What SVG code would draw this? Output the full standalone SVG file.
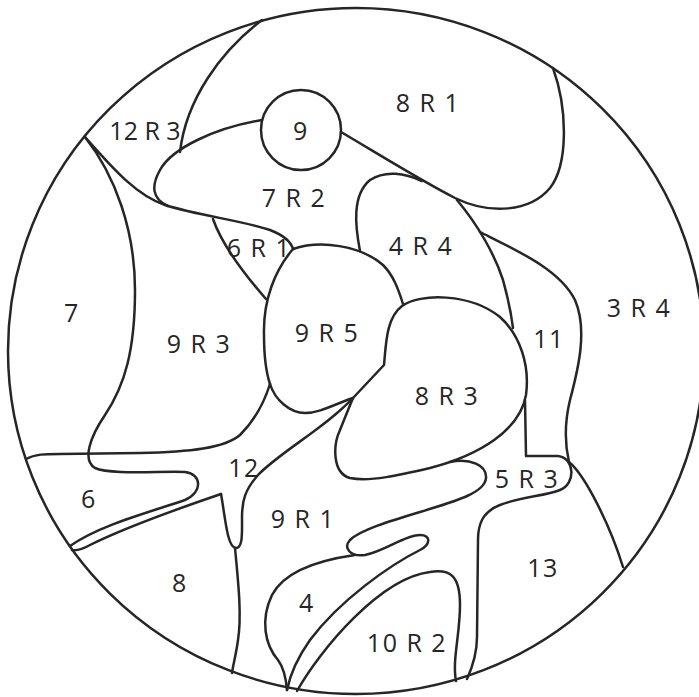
<svg xmlns="http://www.w3.org/2000/svg" width="699" height="697" viewBox="0 0 699 697">
<style>
.ln{fill:none;stroke:#262626;stroke-width:2.5;stroke-linecap:round;stroke-linejoin:round}
.lb{font-family:"Open Sans","Noto Sans","Liberation Sans",sans-serif;font-size:25px;fill:#262626;text-anchor:middle;letter-spacing:1.5px}
</style>
<rect width="699" height="697" fill="#ffffff"/>
<g id="outline">
<ellipse class="ln" cx="356" cy="351" rx="348" ry="343"/>
</g>
<g id="lines">
<path class="ln" d="M262,20 C220,52 186,100 180,152"/>
<path class="ln" d="M85,137 C110,165 135,195 165,205 C200,216 240,220 270,230 C283,235 291,242 293,249"/>
<path class="ln" d="M262,120 C215,128 172,148 160,170 C151,186 152,199 168,206"/>
<circle class="ln" cx="301" cy="130" r="40"/>
<path class="ln" d="M341,132 C380,155 420,180 455,198 C490,215 530,212 550,188 C568,165 568,110 553,68"/>
<path class="ln" d="M457,200 C478,225 495,255 503,280 C508,298 511,312 513,328"/>
<path class="ln" d="M353,398 L384,365 C386,345 386,318 402,306 C420,293 470,293 500,317 C520,335 530,365 526,395 C520,430 480,455 430,468 C400,475 370,482 350,478 C332,473 333,445 340,430 C344,420 348,410 353,398 Z"/>
<path class="ln" d="M480,232 C520,252 560,270 575,300 C588,330 578,370 570,400 C564,425 565,445 569,462"/>
<path class="ln" d="M569,462 C585,475 610,525 623,567"/>
<path class="ln" d="M525,400 L526,456 L558,456 C575,458 576,484 560,490 C545,496 520,497 500,505 C482,512 478,525 478,540 L477,637 C477,655 472,668 467,679"/>
<path class="ln" d="M297,691 C320,650 380,578 430,572 C450,569 460,575 460,605 C460,635 452,660 456,681"/>
<path class="ln" d="M450,462 C470,458 487,465 486,478 C485,492 460,500 420,512 C390,521 360,530 350,540 C343,548 350,557 365,555 C385,551 405,535 420,535 C432,535 430,545 420,550 C390,565 340,600 310,640 C298,657 290,675 287,690"/>
<path class="ln" d="M355,555 C320,560 285,570 272,595 C260,620 265,645 278,660 C284,668 286,678 287,690"/>
<path class="ln" d="M221,494 C225,515 227,548 236,548 C243,548 242,532 242,518 C242,500 245,490 258,475 C280,452 325,428 353,398"/>
<path class="ln" d="M235,548 C238,580 242,615 238,640 C236,655 233,665 232,673"/>
<path class="ln" d="M221,494 C180,508 120,530 90,545 C83,549 78,551 72,550"/>
<path class="ln" d="M85,137 C115,175 135,230 135,290 C135,350 125,385 105,415 C90,437 82,460 95,468 C110,475 160,471 185,472 C202,474 203,492 185,500 C150,512 100,525 70,546"/>
<path class="ln" d="M26,459 C35,454 45,454 60,454 L140,453 C190,452 225,448 240,435 C255,420 265,400 270,384"/>
<path class="ln" d="M293,249 C320,240 360,245 383,265 C393,275 398,288 403,304"/>
<path class="ln" d="M293,249 C275,270 263,300 264,335 C264,355 266,372 270,384"/>
<path class="ln" d="M270,384 C275,400 290,413 305,413 C320,413 335,404 353,398"/>
<path class="ln" d="M213,219 C222,245 245,275 266,299"/>
<path class="ln" d="M360,251 C355,225 352,195 370,180 C385,170 405,173 422,181"/>
</g>
<g id="labels">
<text class="lb" x="145" y="140" style="letter-spacing:0">12 R 3</text>
<text class="lb" x="301" y="140">9</text>
<text class="lb" x="428" y="112">8 R 1</text>
<text class="lb" x="294" y="207">7 R 2</text>
<text class="lb" x="259" y="257">6 R 1</text>
<text class="lb" x="421" y="255">4 R 4</text>
<text class="lb" x="72" y="322">7</text>
<text class="lb" x="199" y="353">9 R 3</text>
<text class="lb" x="327" y="342">9 R 5</text>
<text class="lb" x="639" y="317">3 R 4</text>
<text class="lb" x="549" y="348">11</text>
<text class="lb" x="447" y="405">8 R 3</text>
<text class="lb" x="244" y="477">12</text>
<text class="lb" x="89" y="508">6</text>
<text class="lb" x="303" y="528">9 R 1</text>
<text class="lb" x="527" y="488">5 R 3</text>
<text class="lb" x="180" y="592">8</text>
<text class="lb" x="307" y="612">4</text>
<text class="lb" x="543" y="577">13</text>
<text class="lb" x="407" y="652">10 R 2</text>
</g>
</svg>
